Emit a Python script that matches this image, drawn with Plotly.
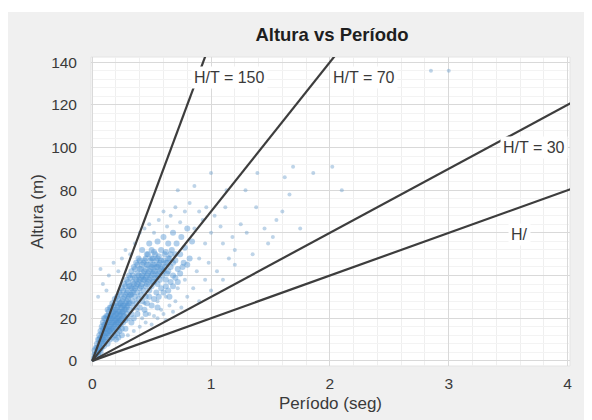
import plotly.graph_objects as go

# ---- data ----
ratios = [150, 70, 30, 20]
ratio_labels = ["H/T = 150", "H/T = 70", "H/T = 30", "H/"]
label_x = [0.83, 2.0, 3.43, 3.50]
label_y = [133, 133, 100, 59]

x_ticks = [0, 1, 2, 3, 4]
y_ticks = [0, 20, 40, 60, 80, 100, 120, 140]

pairs_core = [
    (0.01,1),(0.02,3),(0.02,5),(0.03,2),(0.03,6),(0.04,4),(0.04,8),(0.05,3),(0.05,6),(0.05,10),
    (0.06,5),(0.06,8),(0.06,12),(0.07,4),(0.07,9),(0.07,14),(0.08,6),(0.08,11),(0.08,16),(0.09,8),
    (0.09,13),(0.09,18),(0.10,7),(0.10,10),(0.10,15),(0.10,20),(0.11,9),(0.11,13),(0.11,17),(0.12,11),
    (0.12,15),(0.12,21),(0.13,8),(0.13,13),(0.13,18),(0.13,24),(0.14,12),(0.14,16),(0.14,20),(0.15,10),
    (0.15,14),(0.15,19),(0.15,25),(0.16,13),(0.16,17),(0.16,22),(0.17,11),(0.17,15),(0.17,20),(0.17,27),
    (0.18,14),(0.18,18),(0.18,23),(0.19,12),(0.19,17),(0.19,21),(0.19,29),(0.20,15),(0.20,19),(0.20,24),
    (0.21,13),(0.21,18),(0.21,22),(0.21,30),(0.22,16),(0.22,20),(0.22,26),(0.23,14),(0.23,19),(0.23,23),
    (0.23,32),(0.24,17),(0.24,22),(0.24,27),(0.25,15),(0.25,20),(0.25,25),(0.25,34),(0.26,18),(0.26,23),
    (0.26,29),(0.27,21),(0.27,26),(0.27,36),(0.28,19),(0.28,24),(0.28,31),(0.29,22),(0.29,28),(0.29,38),
    (0.30,20),(0.30,26),(0.30,33),
]
pairs_dense = [
    (0.03,3),(0.04,6),(0.05,4),(0.06,7),(0.06,10),(0.07,6),(0.07,11),(0.08,9),(0.08,13),(0.09,10),
    (0.09,15),(0.10,12),(0.10,17),(0.11,11),(0.11,15),(0.11,20),(0.12,13),(0.12,18),(0.13,15),(0.13,21),
    (0.14,14),(0.14,18),(0.14,23),(0.15,16),(0.15,21),(0.16,15),(0.16,20),(0.16,25),(0.17,18),(0.17,23),
    (0.18,16),(0.18,21),(0.18,26),(0.19,19),(0.19,24),(0.20,17),(0.20,22),(0.20,27),(0.21,20),(0.21,25),
    (0.22,18),(0.22,23),(0.22,29),(0.23,21),(0.23,27),(0.24,19),(0.24,25),(0.24,31),(0.25,23),(0.25,28),
    (0.26,21),(0.26,26),(0.26,33),(0.27,24),(0.27,30),(0.28,27),(0.28,35),(0.29,25),(0.29,32),(0.30,29),
    (0.30,37),(0.31,27),(0.31,35),(0.32,31),(0.32,39),(0.33,34),(0.34,32),(0.34,40),(0.35,36),(0.36,34),
    (0.36,43),(0.37,38),(0.38,36),(0.38,45),(0.39,40),(0.40,38),(0.40,47),(0.41,35),(0.41,43),(0.42,40),
    (0.43,38),(0.43,46),(0.44,42),(0.45,39),(0.45,48),(0.46,36),(0.46,45),(0.47,41),(0.47,50),(0.48,38),
    (0.49,43),(0.50,40),(0.50,48),(0.51,37),(0.51,45),(0.52,42),(0.52,51),(0.53,39),(0.54,44),(0.55,40),
    (0.55,48),(0.56,45),(0.57,42),(0.58,47),(0.59,44),(0.60,42),(0.61,50),(0.62,46),(0.63,41),(0.64,48),
    (0.66,50),(0.68,46),(0.70,50),
]
pairs_mid = [
    (0.31,24),(0.31,30),(0.31,40),(0.32,27),(0.32,35),(0.33,22),(0.33,31),(0.33,42),(0.34,28),(0.34,37),
    (0.35,25),(0.35,33),(0.35,44),(0.36,30),(0.36,39),(0.37,27),(0.37,35),(0.37,46),(0.38,32),(0.38,41),
    (0.39,29),(0.39,37),(0.39,48),(0.40,34),(0.40,43),(0.41,31),(0.41,39),(0.42,36),(0.42,45),(0.42,52),
    (0.43,33),(0.43,41),(0.44,38),(0.44,47),(0.45,30),(0.45,35),(0.45,43),(0.46,40),(0.46,50),(0.47,37),
    (0.47,45),(0.48,33),(0.48,42),(0.48,55),(0.49,39),(0.49,47),(0.50,35),(0.50,44),(0.50,52),(0.51,41),
    (0.51,48),(0.52,37),(0.52,45),(0.53,42),(0.53,50),(0.54,39),(0.54,47),(0.55,36),(0.55,44),(0.55,56),
    (0.56,41),(0.56,49),(0.57,38),(0.57,46),(0.58,43),(0.58,52),(0.59,40),(0.60,47),(0.60,58),(0.61,44),
    (0.62,38),(0.62,51),(0.63,46),(0.64,42),(0.64,55),(0.65,48),(0.66,44),(0.67,52),(0.68,40),(0.68,60),
    (0.70,47),(0.71,55),(0.72,43),(0.74,50),(0.75,58),(0.77,46),(0.78,53),(0.80,62),(0.82,48),(0.84,56),
]
pairs_fill = [
    (0.35,20),(0.38,22),(0.40,25),(0.42,28),(0.44,24),(0.46,27),(0.48,30),(0.50,26),(0.52,29),(0.54,32),
    (0.56,30),(0.58,34),(0.60,32),(0.62,35),(0.64,33),(0.66,37),(0.68,35),(0.70,39),(0.72,37),(0.74,41),
    (0.76,44),(0.80,45),(0.65,30),(0.55,25),(0.45,22),(0.33,18),(0.28,15),(0.25,12),(0.22,11),(0.20,10),
]
pairs_outer = [
    (0.05,30),(0.07,43),(0.09,36),(0.12,33),(0.14,40),(0.18,46),(0.22,42),(0.25,48),(0.28,52),(0.32,50),
    (0.36,55),(0.40,60),(0.44,62),(0.48,64),(0.52,60),(0.56,66),(0.60,70),(0.63,63),(0.66,68),(0.70,72),
    (0.74,65),(0.78,70),(0.82,74),(0.86,62),(0.90,70),(0.93,66),(0.96,72),(1.00,60),(1.03,68),(1.08,63),
    (1.12,72),(1.18,58),(1.25,64),(1.30,60),(1.38,72),(1.45,62),(1.52,58),(1.60,70),(1.66,78),(1.55,66),
    (1.13,80),(1.29,80),(1.00,88),(1.39,88),(1.62,86),(1.69,91),(1.86,88),(2.02,91),(0.86,82),(0.72,80),
    (2.85,136),(3.00,136),(1.20,52),(1.35,50),(1.10,55),(0.95,55),(0.90,48),(1.48,55),(1.75,62),(2.10,80),
]
pairs_low = [
    (0.30,12),(0.35,14),(0.40,16),(0.42,20),(0.45,18),(0.48,22),(0.50,17),(0.52,21),(0.55,20),(0.58,24),
    (0.60,22),(0.62,19),(0.65,26),(0.68,23),(0.70,28),(0.75,25),(0.80,30),(0.85,34),(0.90,28),(0.95,38),
    (1.00,33),(1.05,42),(1.10,38),(1.20,45),(0.38,24),(0.44,27),(0.55,28),(0.62,30),(0.72,34),(0.78,38),
    (0.88,42),(0.98,46),(1.15,48),
]

inner_pairs = pairs_core + pairs_dense + pairs_mid + pairs_fill
sparse_pairs = pairs_outer + pairs_low
periodo_in = [p[0] for p in inner_pairs]
altura_in = [p[1] for p in inner_pairs]
periodo_sp = [p[0] for p in sparse_pairs]
altura_sp = [p[1] for p in sparse_pairs]

X_MIN, X_MAX = -0.01, 4.02
Y_MIN, Y_MAX = -2.4, 142.4

FONT = "Liberation Sans, Arial, Helvetica, sans-serif"
TXT = "#3a3a3a"

fig = go.Figure()

fig.add_trace(go.Scatter(
    x=periodo_sp, y=altura_sp, mode="markers",
    marker=dict(size=4, color="rgba(110,160,205,0.45)", line=dict(width=0)),
    hoverinfo="skip", showlegend=False,
))
fig.add_trace(go.Scatter(
    x=periodo_in, y=altura_in, mode="markers",
    marker=dict(size=6, color="rgba(82,148,210,0.45)", line=dict(width=0)),
    hoverinfo="skip", showlegend=False,
))

for k in ratios:
    x_end = min(X_MAX + 0.1, (Y_MAX + 5) / k)
    fig.add_trace(go.Scatter(
        x=[0, x_end], y=[0, k * x_end], mode="lines",
        line=dict(color="#3d3d3d", width=2.2),
        hoverinfo="skip", showlegend=False,
    ))

for txt, lx, ly in zip(ratio_labels, label_x, label_y):
    fig.add_annotation(
        x=lx, y=ly, text=txt, showarrow=False, xanchor="left", yanchor="middle",
        bgcolor="white", borderpad=2,
        font=dict(family=FONT, size=16, color=TXT),
    )

# grey chart panel (starts 4px below figure top) + white plot area
fig.add_shape(type="rect", xref="paper", yref="paper",
              x0=-0.2, x1=1.1, y0=-0.3, y1=1.1456,
              fillcolor="#f0f0f0", line=dict(width=0), layer="below")
fig.add_shape(type="rect", xref="paper", yref="paper",
              x0=0, x1=1, y0=0, y1=1,
              fillcolor="white", line=dict(color="#e4e4e4", width=1), layer="below")

fig.update_layout(
    width=577, height=412,
    margin=dict(l=83, r=15, t=49, b=54, autoexpand=False),
    paper_bgcolor="white", plot_bgcolor="white",
    font=dict(family=FONT, size=15.5, color=TXT),
    title=dict(text="<b>Altura vs Período</b>", x=0.5615, xanchor="center",
               y=1 - 27 / 412, yanchor="middle", yref="container",
               font=dict(size=18.5, color="#1e1e1e")),
    showlegend=False,
)
fig.update_xaxes(
    range=[X_MIN, X_MAX], tickvals=x_ticks, ticks="", showline=False, zeroline=False,
    gridcolor="#d9d9d9", gridwidth=1,
    minor=dict(dtick=0.2, showgrid=True, gridcolor="#efefef", gridwidth=1),
    title=dict(text="Período (seg)", standoff=6, font=dict(size=17)),
    ticklabelstandoff=6, automargin=False,
)
fig.update_yaxes(
    range=[Y_MIN, Y_MAX], tickvals=y_ticks, ticks="", showline=False, zeroline=False,
    gridcolor="#d9d9d9", gridwidth=1,
    minor=dict(dtick=4, showgrid=True, gridcolor="#f3f3f3", gridwidth=1),
    title=dict(text="Altura (m)", standoff=3, font=dict(size=17)),
    ticklabelstandoff=13, automargin=False,
)

fig.write_html("out.html")
